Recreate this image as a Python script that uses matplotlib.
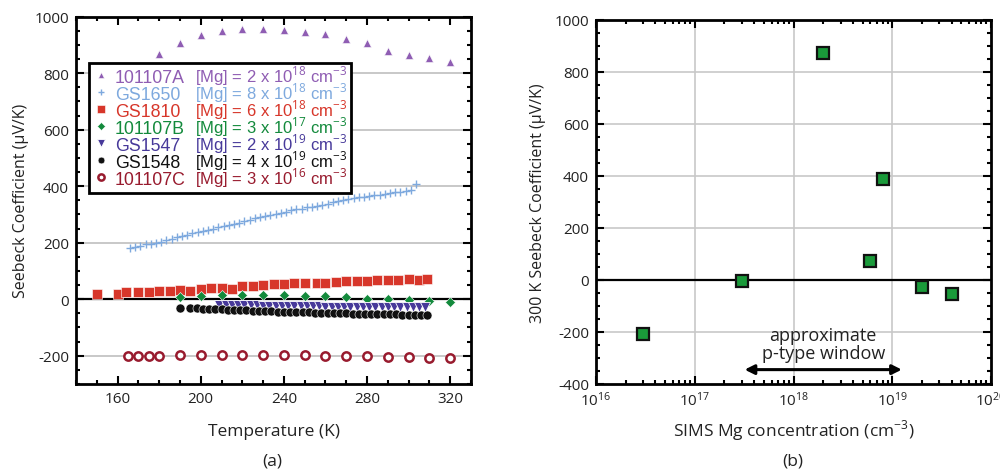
import numpy as np
import matplotlib
matplotlib.use('Agg')
from matplotlib import pyplot as plt
from matplotlib.font_manager import FontProperties
from matplotlib.ticker import MultipleLocator, LogLocator, NullFormatter

plt.rcParams['font.family'] = ['Open Sans', 'DejaVu Sans']
plt.rcParams['mathtext.fontset'] = 'custom'
plt.rcParams['mathtext.rm'] = 'Open Sans'
plt.rcParams['axes.unicode_minus'] = False

# --- panel (a): Seebeck vs temperature ---
t_101107A = [180, 190, 200, 210, 220, 230, 240, 250, 260, 270, 280, 290, 300, 310, 320]
s_101107A = [869, 908, 936, 949, 957, 956, 951, 947, 938, 920, 906, 879, 866, 853, 839]

t_gs1650 = [166, 168.5, 171, 173.5, 176, 178.5, 181, 183.5, 186, 188.5, 191, 193.5, 196, 198.5,
            201, 203.5, 206, 208.5, 211, 213.5, 216, 218.5, 221, 223.5, 226, 228.5, 231, 233.5,
            236, 238.5, 241, 243.5, 246, 248.5, 251, 253.5, 256, 258.5, 261, 263.5, 266, 268.5,
            271, 273.5, 276, 278.5, 281, 283.5, 286, 288.5, 291, 293.5, 296, 298.5, 301, 303.5]
s_gs1650 = [182, 184, 187, 194, 197, 200, 204, 208, 213, 219, 223, 228, 233, 238,
            242, 246, 250, 255, 259, 262, 266, 270, 275, 281, 286, 290, 294, 297,
            300, 305, 310, 315, 318, 320, 325, 327, 331, 334, 338, 343, 348, 351,
            356, 358, 360, 362, 365, 368, 370, 373, 375, 378, 380, 384, 388, 406]

t_gs1810 = [150, 160, 164, 170, 175, 180, 185, 190, 195, 200, 205, 210, 215, 220, 225, 230,
            235, 240, 245, 250, 256, 260, 265, 270, 275, 280, 285, 290, 295, 300, 305, 309]
s_gs1810 = [18, 20, 24, 24, 24, 30, 30, 33, 30, 35, 38, 41, 36, 45, 45, 50,
            53, 53, 58, 58, 59, 59, 62, 65, 65, 65, 69, 69, 69, 71, 69, 72]

t_101107B = [190, 200, 210, 220, 230, 240, 250, 260, 270, 280, 290, 300, 310, 320]
s_101107B = [8, 12, 14, 14, 14, 14, 12, 10, 6, 2, 0, -3, -6, -9]

t_gs1547 = [209, 212, 215, 218, 221, 224, 227, 230, 233, 236, 239, 242, 245, 248, 251, 254, 257,
            260, 263, 266, 269, 272, 275, 278, 281, 284, 287, 290, 293, 296, 299, 302, 305, 308]
s_gs1547 = [-20, -20, -21, -21, -22, -22, -22, -23, -23, -23, -24, -24, -24, -25, -25, -25, -25,
            -26, -26, -26, -26, -27, -27, -27, -27, -28, -28, -28, -28, -28, -28, -29, -29, -29]

t_gs1548 = [190, 195, 198, 201, 204, 207, 210, 213, 216, 219, 222, 225, 228, 231, 234, 237, 240,
            243, 246, 249, 252, 255, 258, 261, 264, 267, 270, 273, 276, 279, 282, 285, 288, 291,
            294, 297, 300, 303, 306, 309]
s_gs1548 = [-30, -31, -32, -33, -34, -35, -36, -37, -38, -39, -40, -41, -42, -42, -43, -44, -44,
            -45, -46, -46, -47, -48, -48, -49, -49, -50, -50, -51, -51, -52, -52, -53, -53, -54,
            -54, -55, -55, -56, -56, -57]

t_101107C = [165, 170, 175, 180, 190, 200, 210, 220, 230, 240, 250, 260, 270, 280, 290, 300, 310, 320]
s_101107C = [-200, -200, -202, -200, -199, -198, -198, -198, -198, -199, -199, -201, -202, -202,
             -205, -205, -207, -209]

names = ['101107A', 'GS1650', 'GS1810', '101107B', 'GS1547', 'GS1548', '101107C']
mg_labels = ['[Mg] = 2 x 10$^{18}$ cm$^{-3}$', '[Mg] = 8 x 10$^{18}$ cm$^{-3}$',
             '[Mg] = 6 x 10$^{18}$ cm$^{-3}$', '[Mg] = 3 x 10$^{17}$ cm$^{-3}$',
             '[Mg] = 2 x 10$^{19}$ cm$^{-3}$', '[Mg] = 4 x 10$^{19}$ cm$^{-3}$',
             '[Mg] = 3 x 10$^{16}$ cm$^{-3}$']

# --- panel (b): 300 K Seebeck vs SIMS Mg ---
mg_conc = [3e16, 3e17, 2e18, 6e18, 8e18, 2e19, 4e19]
s_300k = [-207, -3, 870, 74, 387, -28, -56]

c_purple = '#8f5db3'
c_lblue = '#7ea9de'
c_red = '#d7362a'
c_green = '#138a3c'
c_navy = '#47399a'
c_black = '#111111'
c_dred = '#981b2e'
grid_c = '#c8c8c8'

fig = plt.figure(figsize=(10, 4.77), dpi=100)
ax = fig.add_axes([0.076, 0.193, 0.395, 0.770])
bx = fig.add_axes([0.596, 0.193, 0.395, 0.764])

# panel (a)
for y in [-200, 200, 400, 600, 800]:
    ax.axhline(y, color=grid_c, lw=1.4, zorder=0)
ax.axhline(0, color='black', lw=1.6, zorder=1)

h1, = ax.plot(t_101107A, s_101107A, '^', color=c_purple, ms=6, mec='white', mew=0.4, ls='none')
h2, = ax.plot(t_gs1650, s_gs1650, '+', color=c_lblue, ms=6, mew=1.0, ls='none')
h3, = ax.plot(t_gs1810, s_gs1810, 's', color=c_red, ms=7.5, mec='white', mew=0.4, ls='none')
h4, = ax.plot(t_101107B, s_101107B, 'D', color=c_green, ms=5.5, mec='white', mew=0.4, ls='none')
h5, = ax.plot(t_gs1547, s_gs1547, 'v', color=c_navy, ms=7.5, mec='white', mew=0.6, ls='none')
h6, = ax.plot(t_gs1548, s_gs1548, 'o', color=c_black, ms=6.5, mec='white', mew=0.4, ls='none')
h7, = ax.plot(t_101107C, s_101107C, 'o', mfc='white', mec=c_dred, ms=6, mew=1.8, ls='none')

ax.set_xlim(140, 330)
ax.set_ylim(-300, 1000)
ax.xaxis.set_minor_locator(MultipleLocator(10))
ax.set_xticks([160, 200, 240, 280, 320])
ax.yaxis.set_major_locator(MultipleLocator(200))
ax.yaxis.set_minor_locator(MultipleLocator(50))
ax.set_xlabel('Temperature (K)', fontsize=12.5, color='#222222', labelpad=12)
ax.set_ylabel('Seebeck Coefficient (\u03bcV/K)', fontsize=11.5, color='#222222', labelpad=4)

# legend with sample names; the [Mg] column is added as separate texts
leg_colors = [c_purple, c_lblue, c_red, c_green, c_navy, c_black, c_dred]
handles = [h1, h2, h3, h4, h5, h6, h7]
leg_font = FontProperties(family='Liberation Sans', size=12)
name_font = FontProperties(family='Liberation Sans', size=12.8)
leg = ax.legend(handles, names, loc='upper left', mode='expand',
                bbox_to_anchor=(0.033, 0.873, 0.663, 0.0), frameon=True, fancybox=False,
                edgecolor='black', framealpha=1, borderpad=0.3, labelspacing=0.0,
                handlelength=0.8, handletextpad=0.35, markerscale=0.75,
                prop=name_font, borderaxespad=0)
leg.get_frame().set_linewidth(2)
for txt, c in zip(leg.get_texts(), leg_colors):
    txt.set_color(c)

fig.canvas.draw()
renderer = fig.canvas.get_renderer()
_, _, lp_d = renderer.get_text_width_height_descent('lp', name_font, ismath=False)
for txt, lab, c in zip(leg.get_texts(), mg_labels, leg_colors):
    bb = txt.get_window_extent(renderer)
    y_ax = ax.transAxes.inverted().transform((0, bb.y0 + lp_d))[1]
    ax.text(0.301, y_ax, lab, transform=ax.transAxes, ha='left', va='baseline',
            fontproperties=leg_font, color=c, zorder=10)

# panel (b)
bx.set_xscale('log')
bx.set_xlim(1e16, 1e20)
bx.set_ylim(-400, 1000)
for xv in [1e17, 1e18, 1e19]:
    bx.axvline(xv, color=grid_c, lw=1.2, zorder=0)
for yv in [-200, 200, 400, 600, 800]:
    bx.axhline(yv, color=grid_c, lw=1.2, zorder=0)
bx.axhline(0, color='black', lw=1.6, zorder=1)
bx.plot(mg_conc, s_300k, 's', color='#1a9a3a', mec='#111111', mew=1.6, ms=8, ls='none', zorder=3)

bx.xaxis.set_major_locator(LogLocator(base=10, numticks=10))
bx.xaxis.set_minor_locator(LogLocator(base=10, subs=np.arange(2, 10), numticks=10))
bx.xaxis.set_minor_formatter(NullFormatter())
bx.yaxis.set_major_locator(MultipleLocator(200))
bx.yaxis.set_minor_locator(MultipleLocator(50))
bx.set_xlabel('SIMS Mg concentration (cm$^{-3}$)', fontsize=12.5, color='#222222', labelpad=6)
bx.set_ylabel('300 K Seebeck Coefficient (\u03bcV/K)', fontsize=11.5, color='#222222', labelpad=6)

bx.annotate('', xy=(3.2e17, -345), xytext=(1.25e19, -345),
            arrowprops=dict(arrowstyle='<|-|>', color='black', lw=2.2, mutation_scale=14,
                            shrinkA=0, shrinkB=0))
bx.text(2e18, -245, 'approximate\np-type window', ha='center', va='center',
        fontsize=13, color='#222222', linespacing=1.0)

for a in (ax, bx):
    for sp in a.spines.values():
        sp.set_linewidth(2)
    a.tick_params(which='both', direction='in', top=True, right=True, labelsize=11,
                  colors='black', labelcolor='#222222', width=1.5)
    a.tick_params(which='major', length=6, pad=5)
    a.tick_params(which='minor', length=3)

fig.text(0.272, 0.025, '(a)', ha='center', fontsize=12.5, color='#222222')
fig.text(0.793, 0.025, '(b)', ha='center', fontsize=12.5, color='#222222')

fig.savefig('out.png', dpi=100)
